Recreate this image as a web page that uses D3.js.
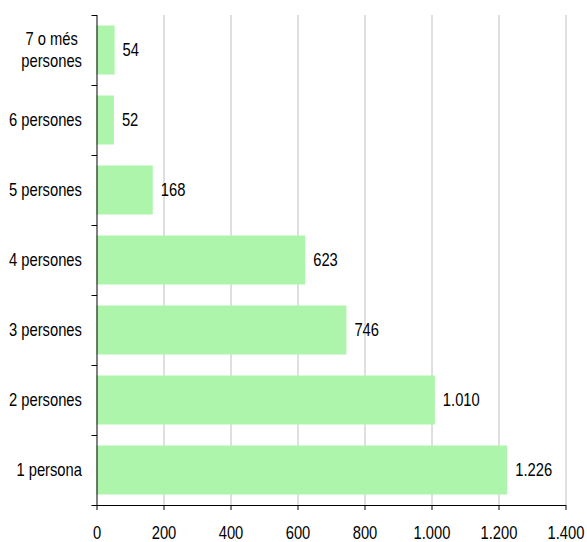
<!DOCTYPE html>
<html>
<head>
<meta charset="utf-8">
<script src="https://cdn.jsdelivr.net/npm/d3@7"></script>
<style>
  body { margin: 0; background: #fff; }
  text { font-family: "Liberation Sans", Arial, sans-serif; }
</style>
</head>
<body>
<div id="plot"></div>
<script>
// Data (top to bottom)
const categories = ["7 o més personas", "6 persones", "5 persones", "4 persones", "3 persones", "2 persones", "1 persona"];
const labelLines = [["7 o més", "persones"], ["6 persones"], ["5 persones"], ["4 persones"], ["3 persones"], ["2 persones"], ["1 persona"]];
const values = [54, 52, 168, 623, 746, 1010, 1226];
const xTicks = [0, 200, 400, 600, 800, 1000, 1200, 1400];

const W = 587, H = 542;
const margin = { top: 15, right: 21.5, bottom: 37, left: 96.5 };
const width = W - margin.left - margin.right;
const height = H - margin.top - margin.bottom;
const fontSize = "18px";
// no narrow font installed, so squeeze the regular one
const squeeze = 0.82;
const narrow = `scale(${squeeze},1)`;

const svg = d3.select("#plot")
  .append("svg")
  .attr("width", W)
  .attr("height", H);

const g = svg.append("g")
  .attr("transform", `translate(${margin.left}, ${margin.top})`);

const x = d3.scaleLinear().domain([0, 1400]).range([0, width]);
const y = d3.scaleBand().domain(categories).range([0, height]).paddingInner(0.3).paddingOuter(0.15);

const fmt = d3.formatLocale({ decimal: ",", thousands: ".", grouping: [3], currency: ["", ""] }).format(",d");

// Gridlines
g.selectAll(".grid")
  .data(xTicks.slice(1))
  .enter()
  .append("line")
  .attr("x1", d => x(d) + 0.5)
  .attr("x2", d => x(d) + 0.5)
  .attr("y1", 0)
  .attr("y2", height)
  .attr("stroke", "#c0c0c0")
  .attr("stroke-width", 1);

// Bars
g.selectAll(".bar")
  .data(values)
  .enter()
  .append("rect")
  .attr("x", 0)
  .attr("y", (d, i) => y(categories[i]))
  .attr("width", d => x(d))
  .attr("height", y.bandwidth())
  .attr("fill", "#adf5aa");

// Value labels
g.selectAll(".label")
  .data(values)
  .enter()
  .append("text")
  .attr("transform", (d, i) => `translate(${x(d) + 8}, ${y(categories[i]) + y.bandwidth() / 2}) ${narrow}`)
  .attr("dy", "0.35em")
  .style("font-size", fontSize)
  .style("fill", "#000")
  .text(d => fmt(d));

// X axis
const xAxis = g.append("g")
  .attr("transform", `translate(0, ${height})`)
  .call(d3.axisBottom(x).tickValues(xTicks).tickFormat(fmt).tickSize(5).tickSizeOuter(0));
xAxis.select(".domain").attr("stroke", "#000");
xAxis.selectAll("line").attr("stroke", "#000");
xAxis.selectAll("text")
  .attr("y", 34)
  .attr("dy", 0)
  .attr("transform", narrow)
  .style("font-size", fontSize)
  .style("font-family", "'Liberation Sans', Arial, sans-serif")
  .attr("fill", "#000");

// Y axis line and ticks at band boundaries
const step = height / categories.length;
g.append("line")
  .attr("x1", 0.5).attr("x2", 0.5)
  .attr("y1", 0).attr("y2", height)
  .attr("stroke", "#000");
g.selectAll(".ytick")
  .data(d3.range(categories.length + 1))
  .enter()
  .append("line")
  .attr("x1", -5).attr("x2", 0.5)
  .attr("y1", i => i * step + 0.5)
  .attr("y2", i => i * step + 0.5)
  .attr("stroke", "#000");

// Category labels: lines centred on each other, block right-aligned
const cat = g.selectAll(".cat")
  .data(labelLines)
  .enter()
  .append("text")
  .attr("text-anchor", "middle")
  .style("font-size", fontSize)
  .style("fill", "#000");
cat.selectAll("tspan")
  .data(d => d.map((t, j) => ({ t, j, n: d.length })))
  .enter()
  .append("tspan")
  .attr("x", 0)
  .attr("dy", d => d.j === 0 ? `${0.35 - (d.n - 1) * 0.61}em` : "1.22em")
  .text(d => d.t);
cat.attr("transform", function (d, i) {
  const w = d3.max(d3.select(this).selectAll("tspan").nodes(), n => n.getComputedTextLength()) * squeeze;
  return `translate(${-14.5 - w / 2}, ${y(categories[i]) + y.bandwidth() / 2}) ${narrow}`;
});
</script>
</body>
</html>
